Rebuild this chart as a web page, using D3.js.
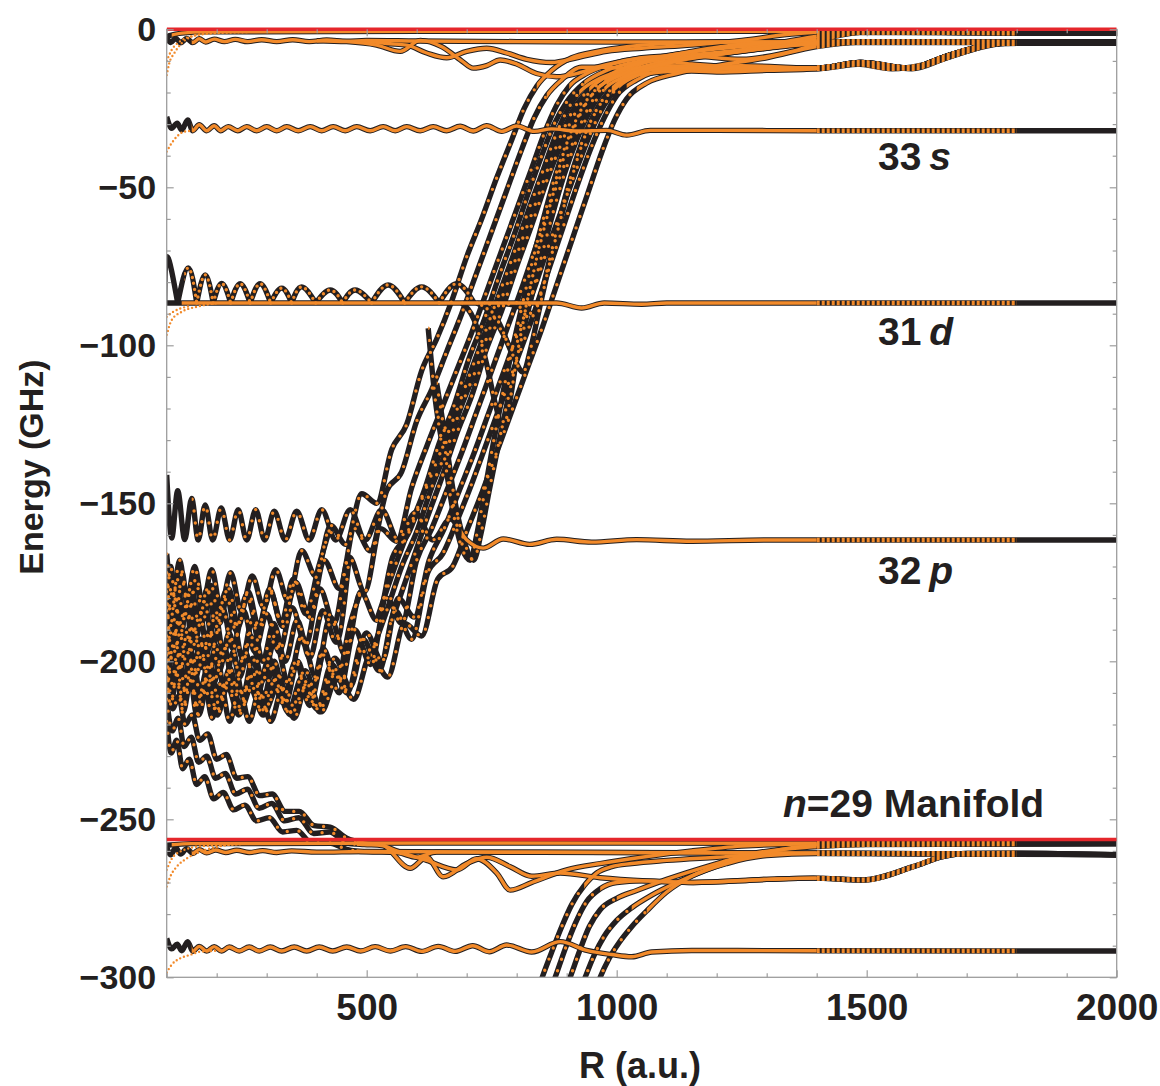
<!DOCTYPE html>
<html><head><meta charset="utf-8">
<script src="https://cdn.jsdelivr.net/npm/d3@7"></script>
<style>
html,body{margin:0;padding:0;background:#fff;}
svg{display:block;}
text{font-family:"Liberation Sans",Arial,Helvetica,sans-serif;font-weight:bold;fill:#231f20;}
</style></head><body>
<svg id="chart" width="1160" height="1086"></svg>
<script>
// ---------------- data (R in a.u., E in GHz) ----------------
const xTicksMajor = [500, 1000, 1500, 2000];
const yTicksMajor = [0, -50, -100, -150, -200, -250, -300];
const hydrogenicLevels = [0, -256.4];

const top1 = [[100,-2.2],[130,-1.2],[180,-0.8],[600,-0.6],[1000,-0.6],[1400,-0.7],[1600,-0.9],[1800,-1.2],[2000,-1.3]];
const top2 = [[100,-2.5],[108,-4.2],[118,-2.8],[128,-4.3],[140,-2.9],[152,-4.2],[165,-3.0],[178,-4.0],[195,-3.1],[215,-3.9],[237,-3.2],[262,-3.9],[290,-3.3],[320,-3.9],[352,-3.3],[385,-3.9],[420,-3.4],[460,-3.8],[500,-3.5],[600,-3.7],[800,-3.9],[1000,-4.0],[1400,-4.0],[1800,-4.1],[2000,-4.2]];
const topDip1 = [[400,-3.6],[460,-3.9],[520,-5],[567,-7],[607,-3.5],[650,-5.5],[690,-10],[713,-12.3],[740,-11.5],[767,-9.7],[800,-11],[840,-14],[880,-15],[920,-14],[960,-12],[1000,-10.5],[1060,-9],[1150,-8.5],[1250,-9.5],[1350,-7],[1420,-4.2],[1500,-3.9],[2000,-4.1]];
const topDip2 = [[500,-3.7],[540,-4.5],[580,-5],[620,-7.5],[660,-9],[700,-7],[740,-6],[780,-7.5],[820,-9.5],[870,-10.5],[920,-9],[980,-7],[1050,-6],[1150,-5],[1250,-3.5],[1350,-1.5],[1450,-0.8],[2000,-1.2]];

const s33 = [[100,-27.7],[110,-31.3],[121,-29.7],[130,-31.9],[142,-28.7],[152,-32.1],[165,-30.2],[180,-32.1],[195,-30.5],[208,-32.1],[223,-30.8],[242,-32.1],[260,-30.8],[280,-32.1],[300,-30.8],[320,-32.1],[340,-30.8],[363,-32.1],[387,-30.8],[410,-32.1],[433,-30.8],[457,-32.1],[480,-30.8],[507,-32.1],[533,-30.8],[557,-32.1],[580,-30.8],[607,-32.1],[633,-30.8],[660,-32.1],[687,-30.7],[713,-32.2],[740,-30.5],[770,-32.3],[800,-30.6],[835,-32.3],[870,-31.5],[920,-32.2],[980,-32],[1020,-33.5],[1067,-32],[1200,-32],[1400,-32.1],[2000,-32.1]];

const d31 = [[100,-86.6],[800,-86.6],[880,-86.6],[930,-88.2],[975,-86.6],[1050,-87.0],[1100,-86.6],[2000,-86.6]];
const d31Arches = [[96,-86.6],[101,-72],[122,-86.6],[143,-75.5],[160,-86.6],[177,-77.7],[193,-86.6],[210,-80.4],[228,-86.6],[247,-80.5],[267,-86.6],[287,-80.5],[308,-86.6],[330,-81.9],[350,-86.6],[370,-81.5],[398,-86.6],[427,-82.5],[452,-86.6],[477,-82.5],[510,-86.6],[543,-80.9],[576,-86.6],[610,-81.5],[645,-86.6],[680,-80.5],[715,-86.6]];

const p32 = [[100,-141],[110,-161],[122,-146],[136,-161.5],[150,-148.5],[163,-161.6],[177,-150.5],[192,-161.6],[209,-151.5],[226,-161.6],[243,-152],[260,-161.6],[278,-152],[296,-161.6],[315,-152.5],[337,-161.6],[360,-152.5],[385,-161.6],[410,-152],[438,-161.6],[467,-152],[497,-161.6],[530,-152],[563,-161.6],[597,-153],[632,-161.6],[667,-155],[700,-161.6],[733,-164.2],[773,-161.3],[826,-163],[880,-161.4],[950,-162.3],[1040,-161.5],[1150,-162],[1300,-161.6],[2000,-161.6]];

const band1 = [[100,-166],[112,-180],[126,-168],[140,-181],[156,-170],[172,-182],[190,-171],[208,-183],[228,-172],[249,-184],[271,-173],[294,-183],[318,-171],[343,-181],[370,-165],[398,-173],[428,-157],[458,-163],[490,-147],[520,-150],[550,-133],[580,-125],[610,-108],[640,-98],[670,-86],[700,-72],[730,-60],[760,-47],[790,-35],[815,-25],[840,-18],[870,-13],[910,-9],[960,-7],[1020,-5.5],[1100,-4.5],[1200,-4],[1400,-4],[2000,-4.2]];
const band2 = [[100,-172],[109,-186],[121,-174],[134,-187],[149,-176],[164,-188],[181,-177],[199,-189],[218,-178],[238,-190],[260,-179],[283,-190],[307,-178],[332,-189],[358,-175],[386,-186],[415,-168],[445,-177],[476,-158],[507,-165],[540,-146],[570,-140],[600,-124],[630,-114],[660,-102],[690,-90],[720,-77],[750,-64],[780,-51],[810,-38],[835,-28],[860,-21],[890,-16],[930,-12],[980,-12],[1050,-13],[1150,-12],[1250,-11.5],[1400,-12.3],[1487,-10.5],[1587,-12.3],[1650,-9],[1700,-6.5],[1767,-4.5],[1830,-4.1],[2000,-4.2]];
const band3 = [[100,-190],[115,-176],[128,-191],[143,-179],[158,-193],[175,-181],[193,-195],[212,-183],[232,-196],[254,-184],[276,-197],[300,-185],[325,-197],[351,-183],[378,-195],[406,-177],[435,-188],[465,-167],[496,-178],[528,-158],[560,-162],[590,-145],[620,-132],[650,-120],[680,-108],[710,-96],[740,-83],[770,-70],[800,-57],[830,-44],[855,-33],[880,-24],[905,-18],[940,-14],[990,-11],[1050,-9],[1150,-8],[1250,-6.5],[1350,-4.5],[1430,-2],[1480,-1],[2000,-1.3]];
const band4 = [[100,-182],[111,-198],[124,-186],[138,-200],[153,-188],[169,-202],[186,-190],[205,-203],[225,-191],[246,-205],[268,-192],[292,-206],[317,-193],[343,-207],[370,-192],[398,-205],[427,-186],[457,-198],[488,-178],[520,-187],[552,-167],[582,-160],[612,-148],[642,-136],[672,-124],[702,-111],[732,-98],[762,-85],[792,-72],[822,-58],[852,-45],[877,-34],[900,-26],[925,-20],[960,-16],[1010,-13],[1080,-9],[1160,-7],[1250,-5.5],[1350,-4.5],[1450,-4],[2000,-4.2]];
const band5 = [[100,-200],[113,-186],[127,-202],[142,-190],[158,-205],[175,-193],[194,-207],[214,-195],[235,-209],[257,-197],[280,-211],[305,-199],[331,-213],[358,-200],[386,-214],[415,-198],[445,-210],[476,-190],[508,-201],[540,-180],[570,-188],[600,-168],[630,-158],[660,-146],[690,-134],[720,-121],[750,-108],[780,-95],[810,-82],[840,-68],[870,-54],[900,-41],[925,-31],[950,-23],[980,-17],[1020,-13],[1080,-10],[1150,-11],[1250,-12],[1400,-12.3],[1490,-10.5],[1590,-12.3],[1660,-8.5],[1720,-5.8],[1780,-4.3],[2000,-4.2]];
const band6 = [[100,-192],[110,-207],[123,-195],[137,-210],[152,-198],[168,-212],[186,-200],[205,-214],[226,-202],[248,-215],[271,-203],[296,-216],[322,-204],[349,-216],[377,-203],[406,-214],[436,-199],[467,-208],[499,-191],[531,-200],[563,-180],[595,-186],[625,-168],[655,-158],[685,-146],[715,-134],[745,-121],[775,-108],[805,-95],[835,-82],[865,-68],[895,-55],[925,-42],[950,-32],[975,-24],[1005,-18],[1050,-14],[1120,-10],[1200,-8],[1300,-6],[1400,-3.5],[1460,-1.5],[1500,-0.8],[2000,-1.3]];
const band7 = [[100,-210],[114,-196],[129,-212],[145,-200],[162,-214],[180,-203],[200,-216],[221,-205],[243,-216],[266,-206],[290,-216],[316,-206],[343,-216],[371,-205],[400,-215],[430,-201],[461,-210],[493,-193],[525,-203],[557,-184],[590,-193],[622,-172],[652,-166],[682,-155],[712,-143],[742,-130],[772,-117],[802,-104],[832,-91],[862,-77],[892,-63],[922,-49],[950,-37],[975,-28],[1000,-21],[1040,-16],[1100,-13],[1200,-13.5],[1300,-13],[1400,-12.5],[1480,-11],[1550,-12.5],[1620,-11],[1700,-7],[1770,-4.3],[2000,-4.2]];
const band8 = [[100,-205],[108,-214],[120,-204],[133,-216],[148,-206],[164,-217],[182,-207],[201,-217],[222,-208],[244,-217],[268,-209],[293,-217],[320,-209],[348,-217],[378,-208],[409,-216],[441,-205],[474,-212],[508,-198],[542,-205],[576,-188],[610,-192],[642,-174],[672,-170],[702,-158],[732,-146],[762,-133],[792,-120],[822,-107],[852,-94],[882,-80],[912,-66],[942,-52],[970,-39],[995,-29],[1020,-22],[1060,-17],[1120,-14],[1200,-11.5],[1300,-9],[1400,-5.5],[1480,-4.2],[2000,-4.2]];
const braidA = [[100,-178],[106,-192],[116,-180],[127,-194],[139,-182],[152,-196],[166,-184],[181,-197],[197,-185],[214,-198],[232,-186],[251,-199],[271,-187],[292,-200],[314,-188],[337,-200],[361,-187],[386,-199],[412,-184],[439,-194],[465,-167]];
const braidB = [[100,-186],[107,-200],[117,-189],[128,-203],[140,-191],[153,-205],[167,-193],[182,-207],[198,-195],[215,-209],[233,-197],[252,-211],[272,-199],[293,-212],[315,-200],[338,-213],[362,-200],[387,-212],[413,-196],[440,-206],[467,-188],[488,-178]];
const braidC = [[100,-198],[110,-212],[121,-201],[133,-215],[146,-204],[160,-217],[175,-206],[191,-218],[208,-207],[226,-219],[245,-208],[265,-219],[286,-209],[308,-219],[331,-209],[355,-218],[380,-207],[406,-216],[433,-203],[461,-210]];
const braidD = [[100,-184],[108,-170],[119,-185],[131,-172],[144,-186],[158,-174],[173,-187],[189,-176],[206,-188],[224,-177],[243,-189],[263,-178],[284,-189],[306,-177],[329,-188],[353,-174],[378,-185],[404,-170],[428,-157]];
const steepA = [[520,-187],[552,-172],[585,-158],[615,-146],[645,-131],[675,-119],[705,-104],[735,-92],[765,-78],[795,-65],[825,-51],[850,-40],[875,-30],[900,-23],[935,-17],[980,-13],[1050,-10],[1150,-8.5],[1300,-6],[1400,-4.5],[1500,-4],[2000,-4.2]];
const steepB = [[557,-184],[590,-169],[620,-155],[650,-142],[680,-128],[710,-116],[740,-101],[770,-89],[800,-75],[830,-62],[860,-48],[887,-37],[912,-28],[940,-21],[975,-16],[1030,-12.5],[1100,-11.5],[1250,-12],[1400,-12.3],[1487,-10.5],[1587,-12.3],[1650,-9],[1700,-6.5],[1767,-4.5],[2000,-4.2]];
const steepC = [[508,-198],[540,-184],[570,-170],[600,-159],[630,-145],[660,-133],[690,-119],[720,-107],[750,-93],[780,-81],[810,-67],[838,-55],[865,-43],[890,-33],[915,-25],[945,-19],[990,-14],[1060,-10],[1150,-7],[1250,-4.8],[1400,-4],[2000,-4.2]];

const dipD1 = [[690,-86.6],[715,-92],[740,-106],[758,-119],[773,-126],[786,-118],[800,-104],[816,-90],[835,-76],[858,-61],[882,-47],[906,-35],[930,-26],[960,-19],[1000,-15],[1060,-12.5],[1200,-11.8],[1300,-12],[1400,-12.3],[1487,-10.5],[1587,-12.3],[1650,-9],[1700,-6.5],[1767,-4.5],[1830,-4.1],[2000,-4.2]];
const dipD2 = [[720,-86.6],[750,-90],[775,-97],[793,-101.6],[808,-95],[825,-83],[845,-69],[868,-54],[892,-40],[915,-30],[942,-22],[975,-17],[1030,-13],[1100,-10],[1200,-8],[1350,-5],[1450,-4],[2000,-4.2]];
const dipD3 = [[735,-86.6],[765,-93],[792,-103],[813,-108.5],[828,-101],[846,-88],[866,-74],[888,-60],[912,-46],[936,-34],[962,-25],[995,-19],[1040,-14],[1110,-10],[1250,-6.5],[1350,-3.5],[1450,-1.2],[1500,-0.8],[2000,-1.3]];
const dipD4 = [[760,-86.6],[800,-87.5],[833,-90],[850,-83],[870,-70],[892,-56],[915,-43],[940,-32],[965,-24],[995,-18],[1040,-14.5],[1150,-13],[1250,-12.5],[1400,-12.5],[1490,-11],[1590,-12.5],[1660,-9],[1720,-6],[1790,-4.2],[2000,-4.2]];
const dipP1 = [[623,-94.6],[637,-117],[655,-135],[672,-152],[690,-164],[707,-168],[720,-160],[735,-147],[752,-132],[770,-117],[790,-102],[810,-88],[832,-73],[855,-59],[878,-46],[902,-35],[928,-26],[960,-19],[1000,-15],[1080,-12.5],[1250,-12],[1400,-12.3],[1487,-10.5],[1587,-12.3],[1650,-9],[1700,-6.5],[1767,-4.5],[2000,-4.2]];
const dipP2 = [[640,-112],[658,-130],[675,-148],[695,-162],[714,-168],[728,-160],[745,-146],[764,-131],[784,-116],[805,-101],[826,-87],[848,-73],[871,-59],[895,-46],[920,-35],[946,-26],[975,-19],[1015,-15],[1080,-11.5],[1200,-8],[1350,-5],[1450,-4],[2000,-4.2]];

const desc1 = [[100,-206],[112,-215],[124,-211],[137,-220],[151,-217],[166,-225],[182,-223],[200,-231],[219,-229.5],[240,-237],[262,-236.5],[286,-242.5],[311,-242],[337,-247.5],[365,-247.5],[395,-252],[427,-252.5],[460,-256],[495,-257.5],[530,-258],[587,-265.5],[620,-262],[653,-268.2],[700,-264],[740,-262],[787,-265],[830,-268],[887,-267],[967,-268.5],[1060,-269.5],[1153,-270],[1300,-269],[1393,-268.6],[1493,-269.2],[1593,-265],[1652,-261.8],[1700,-260.8],[1793,-260.7],[2000,-261.2]];
const desc2 = [[100,-212],[111,-222],[123,-218],[135,-227],[149,-224],[164,-232],[180,-230],[198,-237],[217,-235.5],[238,-242],[261,-240.5],[285,-246.5],[310,-245],[336,-250.5],[364,-249.5],[394,-254.5],[426,-254],[460,-257.5],[495,-258],[530,-258.3],[560,-260],[620,-263],[680,-266],[720,-262.5],[760,-267],[787,-272.4],[830,-270],[900,-266],[967,-264],[1050,-262],[1150,-260],[1250,-258.5],[1393,-257.8],[2000,-257.7]];
const desc3 = [[100,-219],[109,-229],[120,-225],[132,-234],[145,-231],[160,-239],[176,-236.5],[194,-243.5],[213,-241.5],[234,-247],[256,-245.5],[280,-250.5],[305,-249.5],[332,-254],[360,-253.5],[390,-257.5],[425,-257.5],[460,-259.5],[500,-260.3],[560,-260.5],[600,-262],[640,-260.4],[700,-260.4],[1400,-260.7],[2000,-261.2]];

const b1 = [[100,-258.2],[150,-257.7],[600,-257.5],[1400,-257.6],[1800,-257.7],[2000,-257.7]];
const b2 = [[100,-258.8],[108,-261.2],[118,-259],[128,-261],[140,-259.3],[152,-260.8],[165,-259.6],[180,-260.6],[198,-259.7],[218,-260.5],[240,-259.8],[265,-260.5],[292,-259.9],[320,-260.5],[350,-260],[400,-260.4],[500,-260.2],[800,-260.4],[1400,-260.7],[2000,-261.2]];
const b3 = [[100,-287.7],[110,-291],[121,-289.5],[130,-291.6],[142,-288.7],[152,-291.8],[165,-290.2],[180,-291.7],[195,-290.3],[210,-291.7],[225,-290.4],[245,-291.7],[265,-290.4],[285,-291.7],[307,-290.4],[330,-291.7],[355,-290.4],[380,-291.7],[405,-290.4],[432,-291.7],[460,-290.4],[488,-291.7],[517,-290.3],[547,-291.7],[578,-290.3],[610,-291.8],[643,-290.2],[677,-291.8],[712,-290],[745,-291.9],[780,-289.8],[830,-292],[887,-288.7],[940,-291.5],[990,-292.8],[1030,-293.5],[1070,-292],[1150,-291.5],[1400,-291.6],[2000,-291.7]];

const rise1 = [[840,-305],[851,-300],[870,-292],[890,-284],[910,-277],[935,-271],[960,-267],[990,-265],[1030,-264],[1100,-263],[1200,-262],[1300,-261],[1400,-260.7],[2000,-261.2]];
const rise2 = [[865,-305],[877,-300],[897,-291],[917,-283],[940,-276],[967,-272],[1000,-270],[1050,-269.5],[1153,-270],[1300,-269],[1393,-268.6],[1493,-269.2],[1593,-265],[1652,-261.8],[1700,-260.8],[1793,-260.7],[2000,-261.2]];
const rise3 = [[895,-305],[907,-300],[925,-292],[945,-284],[967,-278.6],[1000,-275],[1040,-272.5],[1100,-269],[1200,-264],[1267,-261],[1393,-258.7],[1500,-258],[2000,-257.7]];
const rise4 = [[925,-305],[937,-300],[955,-293],[975,-287],[1000,-282],[1030,-278],[1070,-274],[1120,-270],[1180,-266],[1260,-262],[1350,-259],[1450,-257.8],[2000,-257.7]];
const rise5 = [[955,-305],[967,-300],[985,-294],[1005,-289],[1030,-284],[1060,-279],[1100,-273],[1150,-268],[1220,-264],[1300,-261.5],[1400,-260.8],[2000,-261.2]];

const fanTop1 = [[100,-14.5],[105,-10.8],[115,-7.6],[130,-4.4],[150,-2.3],[180,-1.3],[250,-0.8]];
const fanTop2 = [[100,-10],[110,-6.5],[125,-4],[150,-2.2],[200,-1.2],[260,-0.9]];
const fan33 = [[100,-38.7],[110,-36],[120,-34],[135,-32.4],[160,-32]];
const fan31a = [[100,-96.7],[110,-92],[130,-89.4],[160,-87.8],[200,-86.7]];
const fan31b = [[100,-91],[112,-89.5],[125,-88.5],[150,-87.5]];
const fanB1 = [[100,-271.3],[107,-268.2],[120,-265],[140,-262.4],[167,-260.3],[200,-258.7],[267,-257.6]];
const fanB2 = [[100,-266],[110,-262.5],[130,-260],[170,-258.5],[250,-257.9]];
const fanB3 = [[100,-298.5],[110,-296],[127,-294],[147,-292.9],[167,-291.9],[200,-291.6]];

// ---------------- drawing ----------------
const W = 1160, H = 1086;
const L = 166.7, Rt = 1116.7, T = 29.3, B = 977.3;
const x = d3.scaleLinear().domain([100, 2000]).range([L, Rt]);
const y = d3.scaleLinear().domain([-300, 0]).range([B, T]);

const BLACK = "#231f20", ORANGE = "#f28a2a", RED = "#e5262b", FRAME = "#9d9d9d";

// per-curve rendering config: [data, dotted R-range, solid R-range]
const curves = [
  [top1, null, [110,1400]],
  [top2, null, [150,1400]],
  [topDip1, null, [400,1400]],
  [topDip2, null, [500,1400]],
  [s33, null, [150,1400]],
  [d31, null, [130,1400]],
  [p32, [150,690], [690,1400]],
  [band1, [100,840], [840,1400]],
  [band2, [100,860], [860,1400]],
  [band3, [100,905], [905,1400]],
  [band4, [100,925], [925,1400]],
  [band5, [100,980], [980,1400]],
  [band6, [100,1005], [1005,1400]],
  [band7, [100,1020], [1020,1400]],
  [band8, [100,1040], [1040,1400]],
  [braidA, [100,470], null],
  [braidB, [100,490], null],
  [braidC, [100,470], null],
  [braidD, [100,430], null],
  [steepA, [520,935], [935,1400]],
  [steepB, [557,975], [975,1400]],
  [steepC, [508,945], [945,1400]],
  [dipD1, [690,990], [990,1400]],
  [dipD2, [720,970], [970,1400]],
  [dipD3, [735,990], [990,1400]],
  [dipD4, [760,990], [990,1400]],
  [dipP1, [623,960], [960,1400]],
  [dipP2, [640,975], [975,1400]],
  [desc1, [100,480], [480,1400]],
  [desc2, [100,480], [480,1400]],
  [desc3, [100,480], [480,1400]],
  [b1, null, [110,1400]],
  [b2, null, [150,1400]],
  [b3, null, [150,1400]],
  [rise1, [840,935], [935,1400]],
  [rise2, [865,967], [967,1400]],
  [rise3, [895,1000], [1000,1400]],
  [rise4, [925,1030], [1030,1400]],
  [rise5, [955,1060], [1060,1400]]
];
const fans = [fanTop1, fanTop2, fan33, fan31a, fan31b, fanB1, fanB2, fanB3];

const svg = d3.select("#chart");
const defs = svg.append("defs");
defs.append("clipPath").attr("id","plotclip").append("rect")
  .attr("x",L).attr("y",T-3).attr("width",Rt-L).attr("height",B-T+3);

let clipN = 0;
function rangeClip(r0, r1){
  const id = "rc" + (clipN++);
  defs.append("clipPath").attr("id", id).append("rect")
    .attr("x", x(r0)).attr("y", 0).attr("width", Math.max(0, x(r1)-x(r0))).attr("height", H);
  return "url(#" + id + ")";
}
const pat = defs.append("pattern").attr("id","vstripe").attr("patternUnits","userSpaceOnUse")
  .attr("x", x(1400)).attr("y",0).attr("width",5).attr("height",20);
pat.append("rect").attr("x",0).attr("y",0).attr("width",3).attr("height",20).attr("fill","#fff");
defs.append("mask").attr("id","midmask").attr("maskUnits","userSpaceOnUse")
  .attr("x",0).attr("y",0).attr("width",W).attr("height",H)
  .append("rect").attr("x",x(1400)).attr("y",0).attr("width",x(1800)-x(1400)).attr("height",H)
  .attr("fill","url(#vstripe)");

const line = d3.line().x(d => x(d[0])).y(d => y(d[1])).curve(d3.curveMonotoneX);
const arcLine = d3.line().x(d => x(d[0])).y(d => y(d[1])).curve(d3.curveNatural);

// arches of the 31d curve
const arches = [];
for (let i = 1; i + 1 < d31Arches.length; i += 2) arches.push([d31Arches[i-1], d31Arches[i], d31Arches[i+1]]);

const plot = svg.append("g").attr("clip-path","url(#plotclip)");

// black layer
const gBlack = plot.append("g").attr("fill","none").attr("stroke",BLACK).attr("stroke-width",5.4)
  .attr("stroke-linejoin","round");
curves.forEach(c => gBlack.append("path").attr("d", line(c[0])));
arches.forEach(a => gBlack.append("path").attr("d", arcLine(a)));

// orange layer (R < 1400)
const gOr = plot.append("g").attr("fill","none").attr("stroke",ORANGE);
curves.forEach(c => {
  if (c[1]) gOr.append("path").attr("d", line(c[0])).attr("clip-path", rangeClip(c[1][0], Math.min(c[1][1],1400)))
      .attr("stroke-width",3.4).attr("stroke-linecap","round").attr("stroke-dasharray","0 12");
  if (c[2]) gOr.append("path").attr("d", line(c[0])).attr("clip-path", rangeClip(c[2][0], c[2][1]))
      .attr("stroke-width",3.4);
});
const archClip = rangeClip(135, 1400);
arches.forEach(a => gOr.append("path").attr("d", arcLine(a)).attr("clip-path", archClip)
  .attr("stroke-width",3.4).attr("stroke-linecap","round").attr("stroke-dasharray","0 6"));
fans.forEach(f => gOr.append("path").attr("d", line(f))
  .attr("stroke-width",2.4).attr("stroke-linecap","round").attr("stroke-dasharray","0 4"));

// striped orange (1400 < R < 1800)
const gMid = plot.append("g").attr("mask","url(#midmask)").attr("fill","none").attr("stroke",ORANGE).attr("stroke-width",4.6);
curves.forEach(c => gMid.append("path").attr("d", line(c[0])));

// frame
svg.append("rect").attr("x",L).attr("y",T).attr("width",Rt-L).attr("height",B-T)
  .attr("fill","none").attr("stroke",FRAME).attr("stroke-width",1.3);

// hydrogenic levels (red)
svg.append("g").attr("clip-path", rangeClip(100,2000)).selectAll("line").data(hydrogenicLevels).join("line")
  .attr("x1", x(100)).attr("x2", x(2000)).attr("y1", d => y(d)).attr("y2", d => y(d))
  .attr("stroke", RED).attr("stroke-width", 3.4);

// axes
const minorX = d3.range(100, 2001, 100).filter(v => !xTicksMajor.includes(v));
const minorY = d3.range(-300, 1, 10).filter(v => !yTicksMajor.includes(v));
function styleAxis(g){
  g.select(".domain").remove();
  g.selectAll(".tick line").attr("stroke",FRAME).attr("stroke-width",1.2);
}
const fmt = d3.format("");
svg.append("g").attr("transform",`translate(0,${B})`)
  .call(d3.axisBottom(x).tickValues(xTicksMajor).tickSize(-7).tickPadding(16.5).tickFormat(fmt))
  .call(styleAxis).call(g => g.selectAll("text").attr("font-size",37).attr("fill","#231f20")
    .attr("font-family","Liberation Sans, Arial, sans-serif").attr("font-weight","bold"));
svg.append("g").attr("transform",`translate(0,${B})`)
  .call(d3.axisBottom(x).tickValues(minorX).tickSize(-4).tickFormat("")).call(styleAxis);
svg.append("g").attr("transform",`translate(0,${T})`)
  .call(d3.axisTop(x).tickValues(xTicksMajor).tickSize(-7).tickFormat("")).call(styleAxis);
svg.append("g").attr("transform",`translate(0,${T})`)
  .call(d3.axisTop(x).tickValues(minorX).tickSize(-4).tickFormat("")).call(styleAxis);
svg.append("g").attr("transform",`translate(${L},0)`)
  .call(d3.axisLeft(y).tickValues(yTicksMajor).tickSize(-7).tickPadding(10.5).tickFormat(d3.format("")))
  .call(styleAxis).call(g => g.selectAll("text").attr("font-size",34).attr("fill","#231f20")
    .attr("font-family","Liberation Sans, Arial, sans-serif").attr("font-weight","bold"));
svg.append("g").attr("transform",`translate(${L},0)`)
  .call(d3.axisLeft(y).tickValues(minorY).tickSize(-4).tickFormat("")).call(styleAxis);
svg.append("g").attr("transform",`translate(${Rt},0)`)
  .call(d3.axisRight(y).tickValues(yTicksMajor).tickSize(-7).tickFormat("")).call(styleAxis);
svg.append("g").attr("transform",`translate(${Rt},0)`)
  .call(d3.axisRight(y).tickValues(minorY).tickSize(-4).tickFormat("")).call(styleAxis);

// axis titles
svg.append("text").attr("x",640).attr("y",1078).attr("text-anchor","middle").attr("font-size",36).text("R (a.u.)");
svg.append("text").attr("transform","translate(43,467) rotate(-90)").attr("text-anchor","middle")
  .attr("font-size",34).text("Energy (GHz)");

// state labels
function label(xp, yp, a, b){
  const t = svg.append("text").attr("x",xp).attr("y",yp).attr("font-size",39);
  t.append("tspan").text(a);
  t.append("tspan").attr("font-style","italic").text(b);
}
label(878, 170, "33\u2009", "s");
label(878, 345, "31\u2009", "d");
label(878, 584, "32\u2009", "p");
const m = svg.append("text").attr("x",783).attr("y",817).attr("font-size",39);
m.append("tspan").attr("font-style","italic").text("n");
m.append("tspan").text("=29 Manifold");
</script>
</body></html>
